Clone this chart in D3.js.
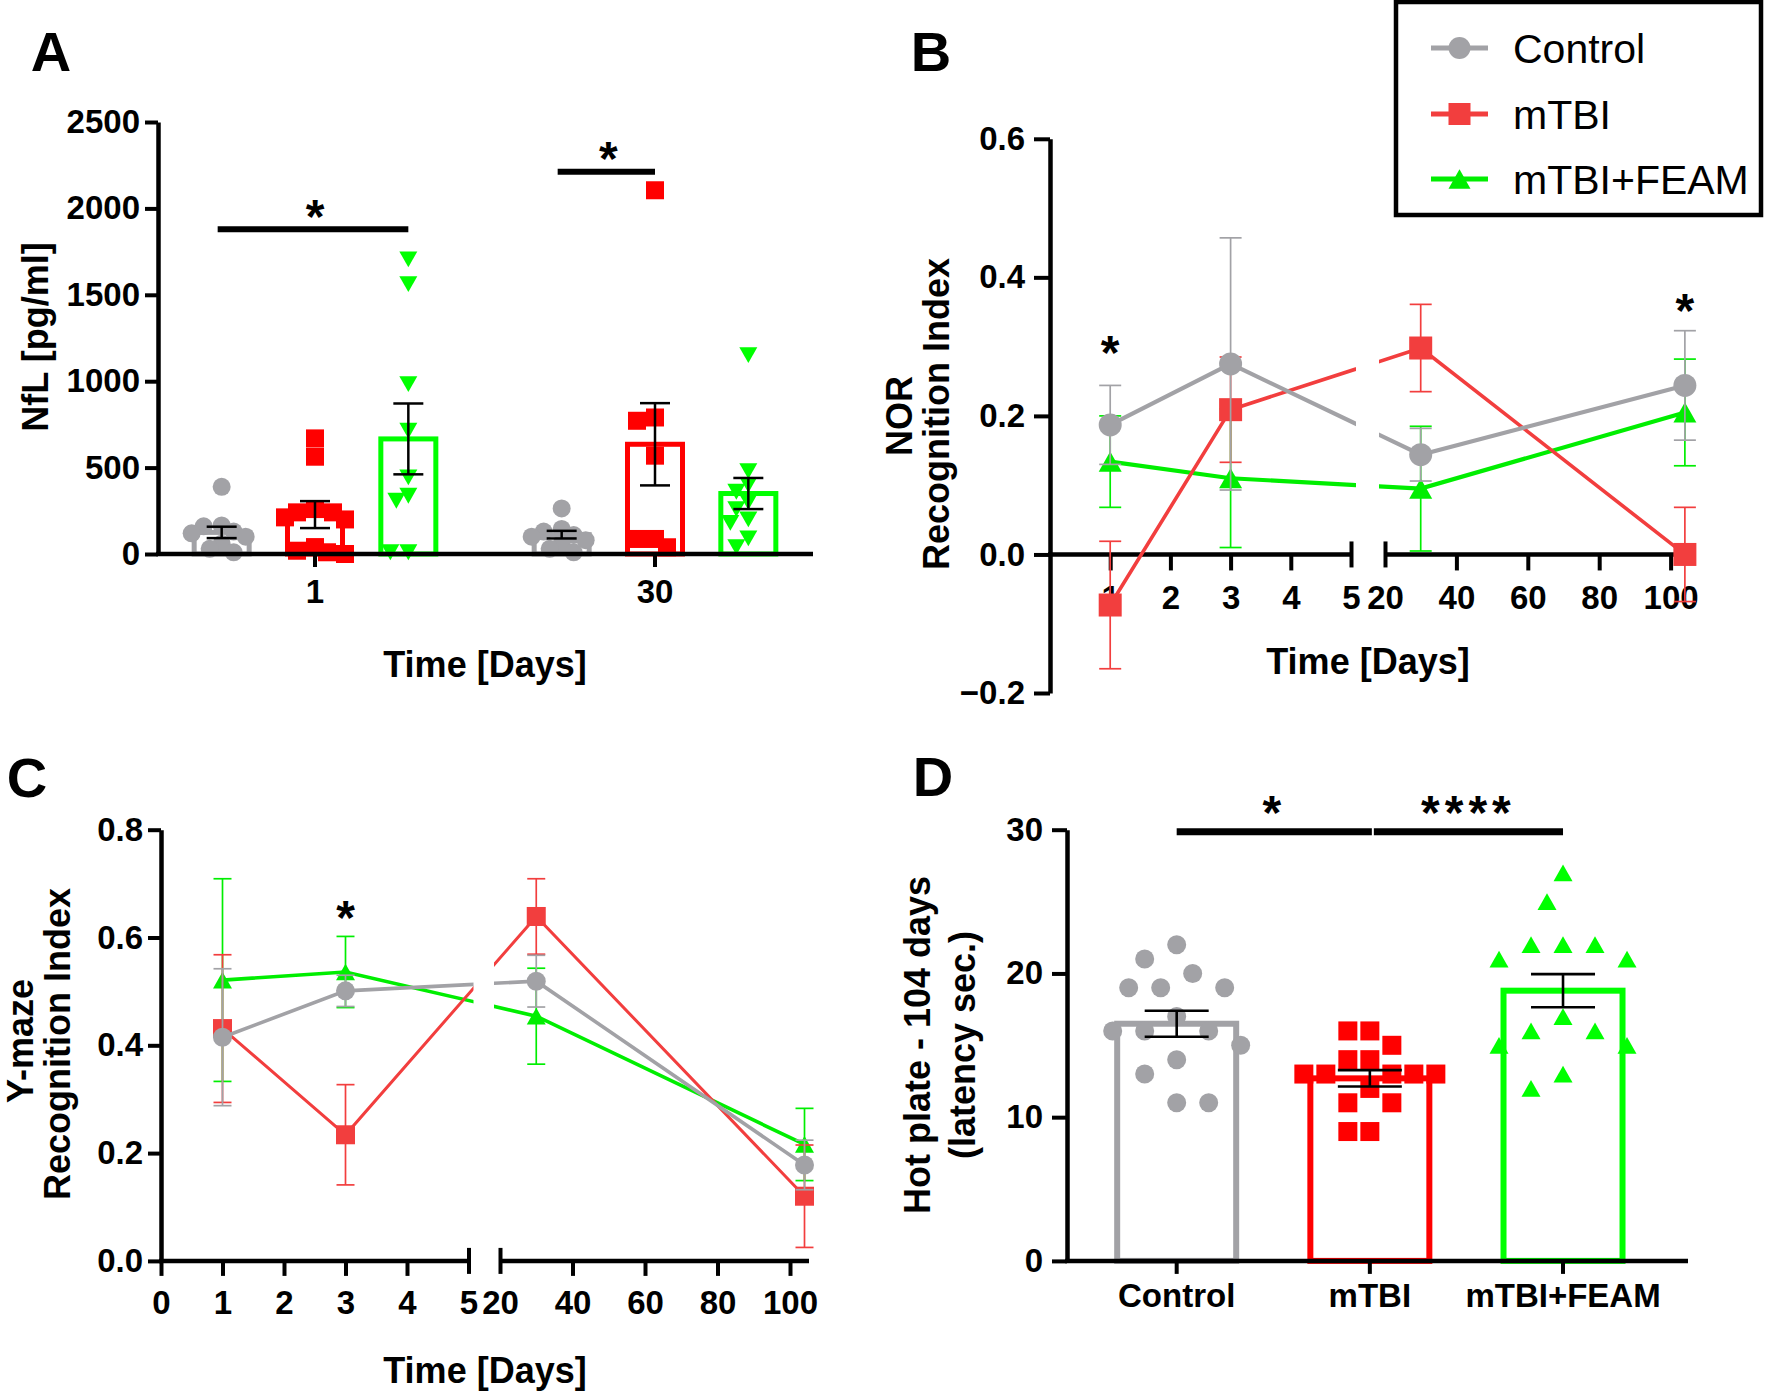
<!DOCTYPE html>
<html><head><meta charset="utf-8">
<script src="https://cdn.jsdelivr.net/npm/d3@7"></script>
<style>body{margin:0;background:#fff}</style>
</head><body>
<script>
// ---------------- DATA ----------------
const groupNames = ["Control", "mTBI", "mTBI+FEAM"];

// Panel A: NfL
const nflDayLabels = ["1", "30"];
const nflTicks = [0, 500, 1000, 1500, 2000, 2500];
const nflDay1Control = [389, 165, 160, 130, 120, 100, 60, 30, 10];
const nflDay1MTBI = [669, 563, 260, 241, 241, 212, 200, 40, 19, 10, 0];
const nflDay1FEAM = [1705, 1562, 983, 713, 443, 337, 308, 10, 10];
const nflDay30Control = [264, 145, 130, 110, 100, 80, 60, 30, 10];
const nflDay30MTBI = [2105, 790, 771, 569, 87, 87, 39];
const nflDay30FEAM = [1151, 480, 400, 360, 300, 260, 200, 180, 90, 40];
const nflDay1Mean = [125, 228, 666];
const nflDay1Sem = [33, 78, 205];
const nflDay30Mean = [112, 635, 350];
const nflDay30Sem = [22, 238, 90];
const nflSig = [["1", "Control", "mTBI+FEAM", 1880, "*"], ["30", "Control", "mTBI", 2212, "*"]];

// Panels B, C: time courses
const timeDays = [1, 3, 30, 104];
const norTicks = [-0.2, 0.0, 0.2, 0.4, 0.6];
const norControl = [0.187, 0.275, 0.144, 0.244];
const norControlSem = [0.057, 0.182, 0.038, 0.079];
const norMTBI = [-0.073, 0.209, 0.298, 0.0];
const norMTBISem = [0.092, 0.076, 0.063, 0.068];
const norFEAM = [0.134, 0.110, 0.095, 0.205];
const norFEAMSem = [0.066, 0.100, 0.090, 0.077];
const norStars = [[1, 0.308], [104, 0.368]];

const ymTicks = [0.0, 0.2, 0.4, 0.6, 0.8];
const ymControl = [0.415, 0.501, 0.519, 0.178];
const ymControlSem = [0.127, 0.029, 0.048, 0.046];
const ymMTBI = [0.431, 0.234, 0.639, 0.120];
const ymMTBISem = [0.137, 0.093, 0.070, 0.095];
const ymFEAM = [0.521, 0.536, 0.454, 0.216];
const ymFEAMSem = [0.188, 0.066, 0.089, 0.067];
const ymStars = [[3, 0.658]];

// Panel D: hot plate
const hotTicks = [0, 10, 20, 30];
const hotControl = [22, 21, 20, 19, 19, 19, 17, 16, 16, 16, 15, 14, 13, 11, 11];
const hotMTBI = [16, 16, 15, 14, 14, 13, 13, 13, 13, 13, 12, 11, 11, 9, 9];
const hotFEAM = [27, 25, 22, 22, 22, 21, 21, 17, 16, 16, 15, 15, 13, 12];
const hotMean = [16.5, 12.7, 18.8];
const hotSem = [0.9, 0.57, 1.15];
const hotSig = [["Control", "mTBI", 29.85, "*"], ["mTBI", "mTBI+FEAM", 29.85, "****"]];

// ---------------- STYLE ----------------
const FONT = '"Liberation Sans", Arial, Helvetica, sans-serif';
const GRAY = "#A2A2A6", RED = "#FF0000", GREEN = "#00FF00";
const LRED = "#F23E3E", LGREEN = "#00EE00";
const barColors = [GRAY, RED, GREEN];
const TICK_FS = 33, TITLE_FS = 36, LETTER_FS = 56;

const svg = d3.select("body").append("svg").attr("width", 1770).attr("height", 1391)
  .style("background", "#fff").style("font-family", FONT);

function text(x, y, s, size, o = {}) {
  const t = svg.append("text").attr("x", x).attr("y", y).text(s)
    .attr("font-size", size).attr("font-weight", o.weight || "bold")
    .attr("text-anchor", o.anchor || "middle").attr("dominant-baseline", o.base || "central")
    .attr("fill", "#000").attr("font-family", FONT);
  if (o.rotate) t.attr("transform", `rotate(-90,${x},${y})`);
  return t;
}
function star(x, cy, s, size) {
  return svg.append("text").attr("x", x).attr("y", cy + 0.575 * size).text(s)
    .attr("font-size", size).attr("font-weight", "bold").attr("text-anchor", "middle")
    .attr("font-family", FONT).attr("fill", "#000");
}
function styleAxis(g, fs) {
  g.attr("font-family", FONT).attr("font-size", fs).attr("font-weight", "bold");
  g.selectAll("line").attr("stroke", "#000").attr("stroke-width", 4);
  g.selectAll("path.domain").attr("stroke", "#000").attr("stroke-width", 4.5);
  g.selectAll("text").attr("fill", "#000");
}
function marker(g, shape, x, y, size, color) {
  if (shape === "circle") g.append("circle").attr("cx", x).attr("cy", y).attr("r", size / 2).attr("fill", color);
  else if (shape === "square") g.append("rect").attr("x", x - size / 2).attr("y", y - size / 2).attr("width", size).attr("height", size).attr("fill", color);
  else {
    const h = size * 0.88, up = shape === "tri";
    const p = up ? `M${x},${y - h / 2}L${x + size / 2},${y + h / 2}L${x - size / 2},${y + h / 2}Z`
                 : `M${x},${y + h / 2}L${x + size / 2},${y - h / 2}L${x - size / 2},${y - h / 2}Z`;
    g.append("path").attr("d", p).attr("fill", color);
  }
}
function swarm(values, yS, cx, minDist, step) {
  const pts = values.map(v => ({ v, y: yS(v) })).sort((a, b) => a.y - b.y);
  const placed = [];
  pts.forEach(p => {
    for (let k = 0; k < 200; k++) {
      const off = (k % 2 === 1 ? -1 : 1) * Math.ceil(k / 2) * step;
      const x = cx + off;
      if (placed.every(q => Math.hypot(q.x - x, q.y - p.y) >= minDist)) { p.x = x; placed.push(p); break; }
    }
  });
  return placed;
}
function errBar(g, x, y1, y2, half, color, w) {
  g.append("line").attr("x1", x).attr("x2", x).attr("y1", y1).attr("y2", y2).attr("stroke", color).attr("stroke-width", w);
  [y1, y2].forEach(y => g.append("line").attr("x1", x - half).attr("x2", x + half).attr("y1", y).attr("y2", y).attr("stroke", color).attr("stroke-width", w));
}

// ---------------- PANEL A ----------------
text(51, 51, "A", LETTER_FS);
const yA = d3.scaleLinear().domain([0, 2500]).range([554, 122]);
const xA = d3.scaleBand().domain(nflDayLabels).range([145, 825]);
const xAin = d3.scaleBand().domain(groupNames).range([-140, 140]);
const cxA = (d, gname) => xA(d) + xA.bandwidth() / 2 + xAin(gname) + xAin.bandwidth() / 2;

const gA = svg.append("g");
const nflPts = { "1": [nflDay1Control, nflDay1MTBI, nflDay1FEAM], "30": [nflDay30Control, nflDay30MTBI, nflDay30FEAM] };
const nflM = { "1": [nflDay1Mean, nflDay1Sem], "30": [nflDay30Mean, nflDay30Sem] };
const shapesA = ["circle", "square", "trid"];
nflDayLabels.forEach(d => {
  groupNames.forEach((gname, i) => {
    const cx = cxA(d, gname), m = nflM[d][0][i];
    gA.append("rect").attr("x", cx - 27.5).attr("width", 55).attr("y", yA(m)).attr("height", yA(0) - yA(m))
      .attr("fill", "none").attr("stroke", barColors[i]).attr("stroke-width", 5);
  });
  groupNames.forEach((gname, i) => {
    const cx = cxA(d, gname);
    swarm(nflPts[d][i], yA, cx, 13, 6).forEach(p => marker(gA, shapesA[i], p.x, p.y, 18, barColors[i]));
  });
  groupNames.forEach((gname, i) => {
    const cx = cxA(d, gname), m = nflM[d][0][i], s = nflM[d][1][i];
    errBar(gA, cx, yA(m + s), yA(m - s), 15, "#000", 2.5);
  });
});
const axA = svg.append("g").attr("transform", "translate(158,0)")
  .call(d3.axisLeft(yA).tickValues(nflTicks).tickSize(13).tickSizeOuter(0).tickPadding(5).tickFormat(d3.format("d")));
styleAxis(axA, TICK_FS);
svg.append("line").attr("x1", 156).attr("x2", 813).attr("y1", yA(0)).attr("y2", yA(0)).attr("stroke", "#000").attr("stroke-width", 4.5);
const axAx = svg.append("g").attr("transform", `translate(0,${yA(0)})`).call(d3.axisBottom(xA).tickSize(13).tickPadding(13));
axAx.select("path.domain").remove();
styleAxis(axAx, TICK_FS);
nflSig.forEach(([d, g1, g2, v, s]) => {
  const x1 = cxA(d, g1), x2 = cxA(d, g2);
  svg.append("line").attr("x1", x1 - 4).attr("x2", x2).attr("y1", yA(v)).attr("y2", yA(v)).attr("stroke", "#000").attr("stroke-width", 6);
  star((x1 + x2) / 2, yA(v) - 24, s, 48);
});
text(35, 337, "NfL [pg/ml]", TITLE_FS, { rotate: true });
text(485, 664, "Time [Days]", TITLE_FS);

// ---------------- TIME-COURSE PANELS ----------------
function timePanel(cfg) {
  const y = d3.scaleLinear().domain(cfg.yDom).range(cfg.yRange);
  const x1 = d3.scaleLinear().domain([0, 5]).range([cfg.x0, cfg.seg1End]);
  const x2 = d3.scaleLinear().domain([20, 100]).range([cfg.seg2Start, cfg.x100]);
  const xf = t => t <= 5 ? x1(t) : x2(t);
  const y0 = y(0);
  const defs = svg.append("defs");
  defs.append("clipPath").attr("id", cfg.id + "L").append("rect").attr("x", cfg.x0 - 30).attr("y", 0).attr("width", cfg.seg1End + 5 - cfg.x0 + 30).attr("height", 1391);
  defs.append("clipPath").attr("id", cfg.id + "R").append("rect").attr("x", cfg.seg2Start - 6).attr("y", 0).attr("width", 500).attr("height", 1391);

  const ay = svg.append("g").attr("transform", `translate(${cfg.x0},0)`)
    .call(d3.axisLeft(y).tickValues(cfg.yTicks).tickSize(cfg.yTick).tickSizeOuter(0).tickPadding(cfg.yPad).tickFormat(d3.format(".1f")));
  styleAxis(ay, TICK_FS);
  svg.append("line").attr("x1", cfg.x0 - 2).attr("x2", cfg.seg1End).attr("y1", y0).attr("y2", y0).attr("stroke", "#000").attr("stroke-width", 4.5);
  svg.append("line").attr("x1", cfg.seg2Start).attr("x2", cfg.axEnd).attr("y1", y0).attr("y2", y0).attr("stroke", "#000").attr("stroke-width", 4.5);
  const a1 = svg.append("g").attr("transform", `translate(0,${y0})`)
    .call(d3.axisBottom(x1).tickValues(cfg.lowTicks).tickSize(cfg.xTick).tickPadding(cfg.xPad).tickFormat(d3.format("d")));
  a1.select("path.domain").remove(); styleAxis(a1, TICK_FS);
  a1.selectAll(".tick").filter(d => d === 5).select("line").attr("y1", -13).attr("y2", 13);
  const a2 = svg.append("g").attr("transform", `translate(0,${y0})`)
    .call(d3.axisBottom(x2).tickValues([20, 40, 60, 80, 100]).tickSize(cfg.xTick).tickPadding(cfg.xPad).tickFormat(d3.format("d")));
  a2.select("path.domain").remove(); styleAxis(a2, TICK_FS);
  a2.selectAll(".tick").filter(d => d === 20).select("line").attr("y1", -13).attr("y2", 13);

  const series = [
    [cfg.feam, cfg.feamSem, LGREEN, "tri", cfg.lw[2]],
    [cfg.mtbi, cfg.mtbiSem, LRED, "square", cfg.lw[1]],
    [cfg.ctrl, cfg.ctrlSem, GRAY, "circle", cfg.lw[0]]
  ];
  const g = svg.append("g");
  series.forEach(([vals, sems, col, shp, lw]) => {
    const pts = timeDays.map((t, i) => ({ t, v: vals[i], s: sems[i] }));
    pts.forEach(p => errBar(g, xf(p.t), y(p.v + p.s), y(p.v - p.s), cfg.cap, col, 1.7));
    const line = d3.line().x(p => xf(p.t)).y(p => y(p.v));
    ["L", "R"].forEach(side => g.append("path").attr("d", line(pts)).attr("fill", "none").attr("stroke", col)
      .attr("stroke-width", lw).attr("clip-path", `url(#${cfg.id}${side})`));
    pts.forEach(p => marker(g, shp, xf(p.t), y(p.v), cfg.msize, col));
  });
  cfg.stars.forEach(([t, v]) => star(xf(t), y(v), "*", 48));
}

// ---------------- PANEL B ----------------
text(931, 51, "B", LETTER_FS);
timePanel({
  id: "clipB", yDom: [-0.2, 0.6], yRange: [693, 138.8], yTicks: norTicks, yTick: 16, yPad: 9,
  x0: 1050, seg1End: 1351, seg2Start: 1385, x100: 1670.6, axEnd: 1694,
  lowTicks: [1, 2, 3, 4, 5], xTick: 16, xPad: 15,
  ctrl: norControl, ctrlSem: norControlSem, mtbi: norMTBI, mtbiSem: norMTBISem, feam: norFEAM, feamSem: norFEAMSem,
  lw: [4.2, 3.6, 4.2], cap: 11, msize: 23, stars: norStars
});
text(899, 416, "NOR", TITLE_FS, { rotate: true });
text(936, 414, "Recognition Index", TITLE_FS, { rotate: true });
text(1368, 661, "Time [Days]", TITLE_FS);

// legend
const lg = svg.append("g");
lg.append("rect").attr("x", 1396).attr("y", 2).attr("width", 365).attr("height", 213).attr("fill", "#fff").attr("stroke", "#000").attr("stroke-width", 4.5);
const legendRows = [[GRAY, "circle", 48], [LRED, "square", 114], [LGREEN, "tri", 179]];
legendRows.forEach(([col, shp, yy], i) => {
  lg.append("line").attr("x1", 1431).attr("x2", 1488).attr("y1", yy).attr("y2", yy).attr("stroke", col).attr("stroke-width", 5);
  marker(lg, shp, 1459.5, yy, 22, col);
  text(1513, yy + 1, groupNames[i], 41, { anchor: "start", weight: "normal" });
});

// ---------------- PANEL C ----------------
text(27, 777, "C", LETTER_FS);
timePanel({
  id: "clipC", yDom: [0, 0.8], yRange: [1260.9, 829.7], yTicks: ymTicks, yTick: 13, yPad: 5,
  x0: 161, seg1End: 468.5, seg2Start: 500, x100: 790, axEnd: 809,
  lowTicks: [0, 1, 2, 3, 4, 5], xTick: 15, xPad: 15,
  ctrl: ymControl, ctrlSem: ymControlSem, mtbi: ymMTBI, mtbiSem: ymMTBISem, feam: ymFEAM, feamSem: ymFEAMSem,
  lw: [3.6, 3.0, 3.6], cap: 9, msize: 19, stars: ymStars
});
text(20, 1041, "Y-maze", TITLE_FS, { rotate: true });
text(57, 1044, "Recognition Index", TITLE_FS, { rotate: true });
text(485, 1370, "Time [Days]", TITLE_FS);

// ---------------- PANEL D ----------------
text(933, 776, "D", LETTER_FS);
const yD = d3.scaleLinear().domain([0, 30]).range([1260.9, 829.7]);
const xD = d3.scaleBand().domain(groupNames).range([1080.1, 1659.6]);
const cxD = gname => xD(gname) + xD.bandwidth() / 2;
const gD = svg.append("g");
const hotPts = [hotControl, hotMTBI, hotFEAM];
const shapesD = ["circle", "square", "tri"];
const swarmD = [[31, 16], [22, 22], [31, 16]];
groupNames.forEach((gname, i) => {
  const cx = cxD(gname), m = hotMean[i];
  gD.append("rect").attr("x", cx - 59.5).attr("width", 119).attr("y", yD(m)).attr("height", yD(0) - yD(m))
    .attr("fill", "none").attr("stroke", barColors[i]).attr("stroke-width", 6);
});
groupNames.forEach((gname, i) => {
  swarm(hotPts[i], yD, cxD(gname), swarmD[i][0], swarmD[i][1]).forEach(p => marker(gD, shapesD[i], p.x, p.y, 19, barColors[i]));
});
groupNames.forEach((gname, i) => {
  const cx = cxD(gname), m = hotMean[i], s = hotSem[i];
  errBar(gD, cx, yD(m + s), yD(m - s), 32, "#000", 2.6);
});
const axD = svg.append("g").attr("transform", "translate(1067,0)")
  .call(d3.axisLeft(yD).tickValues(hotTicks).tickSize(15).tickSizeOuter(0).tickPadding(9));
styleAxis(axD, TICK_FS);
svg.append("line").attr("x1", 1065).attr("x2", 1688).attr("y1", yD(0)).attr("y2", yD(0)).attr("stroke", "#000").attr("stroke-width", 4.5);
const axDx = svg.append("g").attr("transform", `translate(0,${yD(0)})`).call(d3.axisBottom(xD).tickSize(13).tickPadding(10));
axDx.select("path.domain").remove(); styleAxis(axDx, TICK_FS);
hotSig.forEach(([g1, g2, v, s], k) => {
  const x1 = cxD(g1) + (k === 1 ? 4 : 0), x2 = cxD(g2) + (k === 0 ? 2 : 0);
  svg.append("line").attr("x1", x1).attr("x2", x2).attr("y1", yD(v)).attr("y2", yD(v)).attr("stroke", "#000").attr("stroke-width", 7);
  star((x1 + x2) / 2, yD(v) - 30, s, 48).attr("letter-spacing", 5);
});
text(917, 1045, "Hot plate - 104 days", TITLE_FS, { rotate: true });
text(962, 1045, "(latency sec.)", TITLE_FS, { rotate: true });
</script>
</body></html>
